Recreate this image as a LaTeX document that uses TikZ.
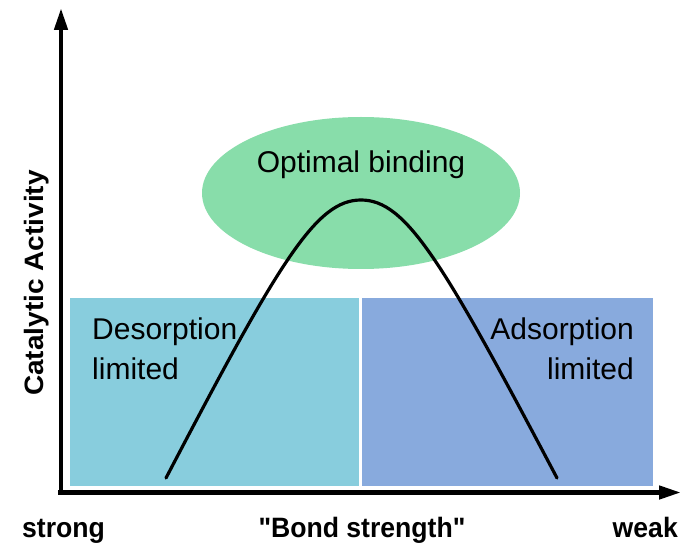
\documentclass[tikz,border=0pt]{standalone}
\usepackage{fontspec}
\setmainfont{Liberation Sans}[Ligatures=TeXOff]
\usetikzlibrary{arrows.meta,shapes.geometric}
\definecolor{descol}{HTML}{88CDDD}
\definecolor{adscol}{HTML}{88AADD}
\definecolor{optcol}{HTML}{88DDAA}
\tikzset{
  lbl/.style={font=\fontsize{30}{36}\selectfont, inner sep=0pt},
  axlbl/.style={font=\bfseries\fontsize{28}{34}\selectfont, inner sep=0pt, xscale=0.95},
  axis/.style={line width=4.5pt, -{Triangle[length=22pt,width=13pt]}}
}
\begin{document}
\begin{tikzpicture}[x=1pt,y=-1pt]
\useasboundingbox[fill=white] (0,0) rectangle (685,545);
% regions
\fill[descol] (70,298) rectangle (359,486);
\fill[adscol] (362,298) rectangle (653,486);
\node[ellipse, fill=optcol, minimum width=318pt, minimum height=152pt, inner sep=0pt] (opt) at (361,193) {};
% axes
\coordinate (xstart) at (58,492.5);
\coordinate (ystart) at (61,494.5);
\coordinate (ytop) at (61,8);
\coordinate (xend) at (681,492.5);
\draw[axis] (xstart) -- (xend);
\draw[axis] (ystart) -- (ytop);
% curve
\coordinate (cl) at (166,478);
\coordinate (cp) at (361,200);
\coordinate (cr) at (557,478);
\draw[line width=3.2pt, line cap=round] (cl) .. controls (280,260) and (316,200) .. (cp) .. controls (406,200) and (442,260) .. (cr);
% texts
\node[lbl] (optl) at (361,165) {Optimal binding};
\node[lbl, anchor=west] (des1) at (92,332) {Desorption};
\node[lbl, anchor=west] (des2) at (92,369) {limited};
\node[lbl, anchor=east] (ads1) at (634,332) {Adsorption};
\node[lbl, anchor=east] (ads2) at (634,369) {limited};
\node[axlbl, anchor=base west] (strong) at (22,537) {strong};
\node[axlbl, anchor=base] (bond) at (362,537) {"Bond strength"};
\node[axlbl, anchor=base east] (weak) at (678,537) {weak};
\node[axlbl, rotate=90, xscale=1] (cat) at (37,283) {Catalytic Activity};
\end{tikzpicture}
\end{document}
